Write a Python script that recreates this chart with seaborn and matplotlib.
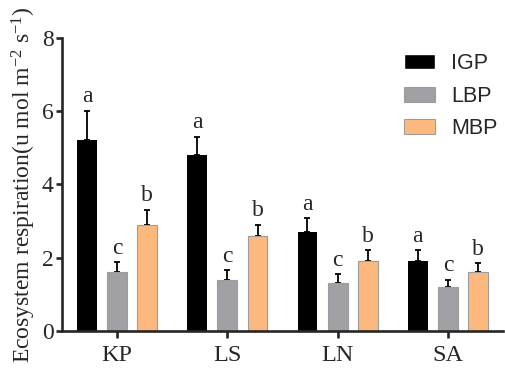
import numpy as np
import pandas as pd
import matplotlib
matplotlib.use("Agg")
import matplotlib.pyplot as plt
import seaborn as sns

sites = ["KP", "LS", "LN", "SA"]
groups = ["IGP", "LBP", "MBP"]
igp = [5.2, 4.8, 2.7, 1.9]
lbp = [1.6, 1.4, 1.3, 1.2]
mbp = [2.9, 2.6, 1.9, 1.6]
igp_err = [0.8, 0.5, 0.38, 0.3]
lbp_err = [0.27, 0.26, 0.25, 0.2]
mbp_err = [0.4, 0.3, 0.3, 0.25]
igp_sig = ["a", "a", "a", "a"]
lbp_sig = ["c", "c", "c", "c"]
mbp_sig = ["b", "b", "b", "b"]
yticks = [0, 2, 4, 6, 8]

colors = {"IGP": "#000000", "LBP": "#A1A0A5", "MBP": "#FDB97D"}

sns.set_style("ticks")
plt.rcParams["font.family"] = ["Liberation Serif", "DejaVu Serif"]
plt.rcParams["mathtext.fontset"] = "custom"
plt.rcParams["mathtext.rm"] = "Liberation Serif"
plt.rcParams["mathtext.it"] = "Liberation Serif:italic"

df = pd.DataFrame({
    "site": sites * 3,
    "group": [g for g in groups for _ in sites],
    "value": igp + lbp + mbp,
})
errs = {"IGP": igp_err, "LBP": lbp_err, "MBP": mbp_err}
sigs = {"IGP": igp_sig, "LBP": lbp_sig, "MBP": mbp_sig}

fig = plt.figure(figsize=(5.05, 3.69), dpi=100)
ax = fig.add_axes([62 / 505, 38 / 369, (503 - 62) / 505, (331 - 37.5) / 369])

sns.barplot(data=df, x="site", y="value", hue="group", order=sites,
            hue_order=groups, palette=colors, width=0.82, gap=0.34,
            errorbar=None, saturation=1, ax=ax, zorder=2)

for g, cont in zip(groups, ax.containers):
    xs, ys = [], []
    for p in cont.patches:
        xs.append(p.get_x() + p.get_width() / 2)
        ys.append(p.get_height())
        if g != "IGP":
            p.set_edgecolor("#9c9c9c")
            p.set_linewidth(0.8)
        else:
            p.set_edgecolor("#000000")
            p.set_linewidth(0)
    e = errs[g]
    ax.errorbar(xs, ys, yerr=[np.zeros(len(e)), e], fmt="none",
                ecolor="black", elinewidth=1.3, capsize=2.3, capthick=1.3,
                zorder=1)
    for x, y, er, s in zip(xs, ys, e, sigs[g]):
        ax.annotate(s, (x, y + er), xytext=(0, 2.5), textcoords="offset points",
                    ha="center", va="bottom", fontsize=17)

ax.set_xlim(-0.5, 3.5)
ax.set_ylim(0, 8)
ax.set_yticks(yticks)
ax.set_xlabel("")
ax.set_ylabel("Ecosystem respiration(u mol m$^{-2}$ s$^{-1}$)", fontsize=17, labelpad=3)
for s in ["top", "right"]:
    ax.spines[s].set_visible(False)
for s in ["left", "bottom"]:
    ax.spines[s].set_linewidth(1.9)
ax.tick_params(axis="x", length=5, width=1.9, labelsize=17.5, pad=5)
ax.tick_params(axis="y", length=4, width=1.9, labelsize=17, pad=2)

handles, labels = ax.get_legend_handles_labels()
leg = ax.legend(handles, labels, loc="upper left",
                bbox_to_anchor=(393 / 505, 1 - 42 / 369), bbox_transform=fig.transFigure,
                frameon=False, prop={"family": "Liberation Sans", "size": 15.5},
                handlelength=1.45, handleheight=0.7, labelspacing=0.55,
                handletextpad=0.75, borderpad=0)
for h, g in zip(leg.legend_handles, groups):
    if g != "IGP":
        h.set_edgecolor("#9c9c9c")
        h.set_linewidth(0.8)

fig.savefig("out.png", dpi=100)
